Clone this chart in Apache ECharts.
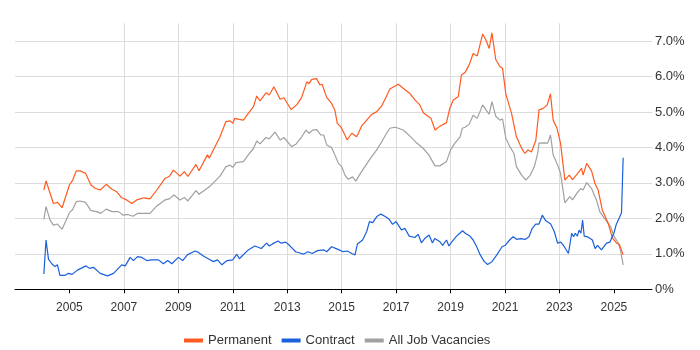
<!DOCTYPE html>
<html>
<head>
<meta charset="utf-8">
<script src="https://cdn.jsdelivr.net/npm/echarts@6/dist/echarts.min.js"></script>
<style>
  html, body { margin: 0; padding: 0; background: #fff; }
  #chart { width: 700px; height: 350px; }
</style>
</head>
<body>
<div id="chart"></div>
<script>
// [year, percent]
var permanent = [
  [2004.06, 2.80], [2004.14, 3.06], [2004.41, 2.42], [2004.56, 2.45], [2004.73, 2.30],
  [2005.00, 2.94], [2005.12, 3.08], [2005.25, 3.34], [2005.39, 3.34], [2005.59, 3.27],
  [2005.79, 2.94], [2005.94, 2.85], [2006.13, 2.80], [2006.35, 2.96], [2006.56, 2.82],
  [2006.74, 2.75], [2006.92, 2.58], [2007.10, 2.52], [2007.29, 2.42], [2007.47, 2.52],
  [2007.74, 2.58], [2007.96, 2.55], [2008.21, 2.80], [2008.51, 3.13], [2008.67, 3.18],
  [2008.82, 3.36], [2009.06, 3.19], [2009.22, 3.32], [2009.35, 3.18], [2009.65, 3.52],
  [2009.76, 3.34], [2010.07, 3.79], [2010.14, 3.70], [2010.53, 4.30], [2010.75, 4.73],
  [2010.90, 4.75], [2011.00, 4.68], [2011.08, 4.82], [2011.24, 4.79], [2011.39, 4.77],
  [2011.57, 4.96], [2011.76, 5.15], [2011.88, 5.45], [2012.00, 5.31], [2012.22, 5.54],
  [2012.34, 5.48], [2012.51, 5.71], [2012.74, 5.36], [2012.88, 5.40], [2013.14, 5.07],
  [2013.35, 5.20], [2013.53, 5.41], [2013.72, 5.85], [2013.80, 5.80], [2013.90, 5.92],
  [2014.08, 5.94], [2014.20, 5.76], [2014.28, 5.78], [2014.45, 5.41], [2014.63, 5.24],
  [2014.75, 5.05], [2014.84, 4.68], [2014.97, 4.58], [2015.12, 4.35], [2015.20, 4.21],
  [2015.37, 4.40], [2015.55, 4.30], [2015.73, 4.60], [2015.92, 4.77], [2016.10, 4.93],
  [2016.29, 5.01], [2016.47, 5.17], [2016.65, 5.45], [2016.77, 5.65], [2016.96, 5.73],
  [2017.08, 5.78], [2017.26, 5.67], [2017.51, 5.52], [2017.69, 5.34], [2017.87, 5.20],
  [2018.00, 4.98], [2018.18, 4.87], [2018.28, 4.82], [2018.43, 4.49], [2018.61, 4.60],
  [2018.85, 4.70], [2018.97, 5.10], [2019.10, 5.34], [2019.28, 5.43], [2019.40, 6.04],
  [2019.53, 6.11], [2019.68, 6.32], [2019.83, 6.65], [2019.98, 6.58], [2020.18, 7.20],
  [2020.30, 7.03], [2020.42, 6.79], [2020.52, 7.23], [2020.66, 6.48], [2020.81, 6.28],
  [2020.91, 6.23], [2021.03, 5.51], [2021.24, 4.96], [2021.42, 4.30], [2021.61, 3.98],
  [2021.73, 3.83], [2021.85, 3.93], [2021.97, 3.87], [2022.13, 4.19], [2022.25, 5.06],
  [2022.40, 5.10], [2022.55, 5.20], [2022.67, 5.51], [2022.77, 4.77], [2022.91, 4.54],
  [2023.04, 4.12], [2023.20, 3.08], [2023.27, 3.06], [2023.36, 3.22], [2023.48, 3.09],
  [2023.65, 3.25], [2023.81, 3.41], [2023.87, 3.22], [2024.00, 3.55], [2024.18, 3.34],
  [2024.30, 2.99], [2024.42, 2.80], [2024.58, 2.22], [2024.79, 1.86], [2024.95, 1.44],
  [2025.10, 1.30], [2025.20, 1.27], [2025.34, 0.97]
];

var contract = [
  [2004.06, 0.43], [2004.14, 1.39], [2004.23, 0.85], [2004.35, 0.72], [2004.47, 0.64],
  [2004.56, 0.69], [2004.65, 0.39], [2004.83, 0.39], [2004.96, 0.45], [2005.10, 0.42],
  [2005.29, 0.54], [2005.61, 0.66], [2005.74, 0.59], [2005.88, 0.62], [2006.13, 0.45],
  [2006.40, 0.38], [2006.62, 0.45], [2006.92, 0.69], [2007.05, 0.66], [2007.23, 0.90],
  [2007.35, 0.81], [2007.50, 0.92], [2007.66, 0.90], [2007.84, 0.81], [2008.02, 0.83],
  [2008.27, 0.83], [2008.45, 0.72], [2008.61, 0.81], [2008.76, 0.72], [2009.00, 0.90],
  [2009.16, 0.81], [2009.33, 0.97], [2009.61, 1.08], [2009.74, 1.04], [2009.92, 0.94],
  [2010.10, 0.86], [2010.29, 0.78], [2010.44, 0.83], [2010.60, 0.69], [2010.79, 0.81],
  [2011.00, 0.83], [2011.15, 0.99], [2011.24, 0.86], [2011.57, 1.11], [2011.81, 1.22],
  [2012.05, 1.15], [2012.24, 1.30], [2012.34, 1.22], [2012.46, 1.28], [2012.66, 1.36],
  [2012.78, 1.30], [2012.94, 1.33], [2013.08, 1.24], [2013.31, 1.06], [2013.43, 1.03],
  [2013.59, 0.99], [2013.76, 1.06], [2013.92, 1.01], [2014.11, 1.09], [2014.35, 1.11],
  [2014.45, 1.06], [2014.63, 1.20], [2014.82, 1.14], [2015.06, 1.06], [2015.21, 1.08],
  [2015.37, 1.01], [2015.49, 0.97], [2015.58, 1.28], [2015.77, 1.39], [2015.92, 1.63],
  [2016.02, 1.91], [2016.14, 1.88], [2016.29, 2.05], [2016.44, 2.12], [2016.60, 2.05],
  [2016.74, 1.98], [2016.87, 1.83], [2017.00, 1.91], [2017.20, 1.67], [2017.32, 1.72],
  [2017.48, 1.50], [2017.69, 1.46], [2017.81, 1.55], [2017.93, 1.31], [2018.05, 1.43],
  [2018.21, 1.53], [2018.33, 1.31], [2018.42, 1.43], [2018.61, 1.34], [2018.71, 1.24],
  [2018.85, 1.39], [2018.94, 1.22], [2019.04, 1.33], [2019.22, 1.50], [2019.34, 1.58],
  [2019.44, 1.65], [2019.54, 1.58], [2019.71, 1.50], [2019.83, 1.39], [2019.96, 1.20],
  [2020.09, 0.97], [2020.24, 0.78], [2020.36, 0.70], [2020.52, 0.78], [2020.70, 0.97],
  [2020.89, 1.20], [2021.01, 1.24], [2021.17, 1.39], [2021.30, 1.48], [2021.42, 1.41],
  [2021.57, 1.43], [2021.75, 1.41], [2021.88, 1.48], [2022.00, 1.72], [2022.13, 1.84],
  [2022.25, 1.84], [2022.37, 2.09], [2022.50, 1.93], [2022.68, 1.84], [2022.81, 1.63],
  [2022.93, 1.30], [2023.05, 1.33], [2023.18, 1.20], [2023.33, 1.01], [2023.45, 1.58],
  [2023.52, 1.48], [2023.58, 1.58], [2023.66, 1.50], [2023.72, 1.67], [2023.79, 1.58],
  [2023.85, 1.95], [2023.91, 1.50], [2024.03, 1.48], [2024.21, 1.39], [2024.31, 1.15],
  [2024.40, 1.24], [2024.54, 1.11], [2024.73, 1.30], [2024.85, 1.33], [2024.92, 1.35],
  [2025.00, 1.58], [2025.08, 1.81], [2025.14, 1.77], [2025.22, 2.05], [2025.28, 2.16],
  [2025.34, 3.71]
];

var allJobs = [
  [2004.06, 1.97], [2004.14, 2.33], [2004.29, 1.95], [2004.41, 1.81], [2004.56, 1.84],
  [2004.73, 1.69], [2005.00, 2.16], [2005.12, 2.25], [2005.25, 2.47], [2005.39, 2.49],
  [2005.59, 2.45], [2005.79, 2.22], [2006.00, 2.19], [2006.15, 2.14], [2006.35, 2.26],
  [2006.56, 2.19], [2006.80, 2.19], [2006.98, 2.09], [2007.15, 2.11], [2007.33, 2.06],
  [2007.50, 2.14], [2007.96, 2.14], [2008.21, 2.35], [2008.51, 2.52], [2008.67, 2.55],
  [2008.84, 2.66], [2009.06, 2.52], [2009.22, 2.59], [2009.35, 2.49], [2009.65, 2.78],
  [2009.76, 2.68], [2010.14, 2.89], [2010.53, 3.19], [2010.75, 3.46], [2010.90, 3.50],
  [2011.00, 3.44], [2011.12, 3.57], [2011.39, 3.60], [2011.57, 3.79], [2011.76, 3.97],
  [2011.88, 4.18], [2012.00, 4.10], [2012.22, 4.28], [2012.34, 4.24], [2012.55, 4.43],
  [2012.74, 4.21], [2012.88, 4.28], [2013.16, 4.02], [2013.33, 4.10], [2013.53, 4.30],
  [2013.69, 4.49], [2013.81, 4.40], [2013.93, 4.49], [2014.08, 4.50], [2014.24, 4.35],
  [2014.34, 4.35], [2014.45, 4.07], [2014.63, 4.00], [2014.75, 3.79], [2014.88, 3.55],
  [2015.00, 3.46], [2015.12, 3.22], [2015.24, 3.10], [2015.40, 3.17], [2015.52, 3.05],
  [2015.69, 3.27], [2015.89, 3.50], [2016.10, 3.74], [2016.29, 3.93], [2016.47, 4.16],
  [2016.65, 4.40], [2016.77, 4.54], [2016.96, 4.57], [2017.08, 4.54], [2017.26, 4.49],
  [2017.51, 4.32], [2017.75, 4.13], [2018.00, 3.97], [2018.20, 3.79], [2018.43, 3.48],
  [2018.61, 3.48], [2018.85, 3.60], [2019.00, 3.93], [2019.16, 4.12], [2019.35, 4.30],
  [2019.43, 4.54], [2019.53, 4.57], [2019.68, 4.65], [2019.83, 4.91], [2019.98, 4.82],
  [2020.18, 5.20], [2020.30, 5.06], [2020.42, 4.94], [2020.52, 5.29], [2020.66, 4.88],
  [2020.81, 4.77], [2020.91, 4.80], [2021.03, 4.26], [2021.18, 4.02], [2021.33, 3.83],
  [2021.42, 3.46], [2021.61, 3.22], [2021.77, 3.08], [2021.93, 3.22], [2022.08, 3.46],
  [2022.20, 3.83], [2022.25, 4.12], [2022.45, 4.13], [2022.57, 4.12], [2022.67, 4.35],
  [2022.77, 3.79], [2022.91, 3.55], [2023.04, 3.27], [2023.20, 2.44], [2023.38, 2.61],
  [2023.48, 2.52], [2023.65, 2.72], [2023.78, 2.84], [2023.87, 2.80], [2024.00, 3.01],
  [2024.18, 2.84], [2024.36, 2.52], [2024.48, 2.19], [2024.70, 1.95], [2024.88, 1.77],
  [2025.00, 1.50], [2025.15, 1.32], [2025.24, 1.11], [2025.34, 0.69]
];

var seriesNames = ['Permanent', 'Contract', 'All Job Vacancies'];
var seriesColors = ['#ff5a1f', '#1a5fdc', '#a0a0a0'];
var yearTicks = [2005, 2007, 2009, 2011, 2013, 2015, 2017, 2019, 2021, 2023, 2025];

// x axis counts years from 2003 so the 2-year ticks land on odd years
var base = 2003;
function shift(list) {
  return list.map(function (p) { return [p[0] - base, p[1]]; });
}
var tickPos = yearTicks.map(function (y) { return y - base; });

var myChart = echarts.init(document.getElementById('chart'));

var option = {
  animation: false,
  grid: { left: 15, right: 48, top: 23.3, bottom: 60.7, containLabel: false, outerBoundsMode: 'none' },
  legend: {
    data: seriesNames,
    left: 179,
    top: 329,
    icon: 'rect',
    itemWidth: 19,
    itemHeight: 4,
    itemGap: 10,
    textStyle: { fontSize: 13, color: '#333', fontFamily: 'Liberation Sans, Arial, sans-serif' }
  },
  xAxis: {
    type: 'value',
    min: 0,
    max: 23.4,
    interval: 2,
    offset: 6,
    axisLine: { lineStyle: { color: '#000', width: 1 } },
    axisTick: { show: true, length: 4, customValues: tickPos, lineStyle: { color: '#000' } },
    axisLabel: {
      customValues: tickPos,
      fontSize: 12,
      color: '#333',
      margin: 6,
      fontFamily: 'Liberation Sans, Arial, sans-serif',
      formatter: function (v) { return '' + Math.round(v + base); }
    },
    splitLine: { show: true, showMinLine: false, showMaxLine: false, lineStyle: { color: '#dcdcdc' } }
  },
  yAxis: {
    type: 'value',
    position: 'right',
    min: 0,
    max: 7.5,
    interval: 1,
    axisLine: { show: false },
    axisTick: { show: false },
    axisLabel: {
      showMaxLabel: false,
      fontSize: 13,
      color: '#333',
      margin: 3,
      fontFamily: 'Liberation Sans, Arial, sans-serif',
      formatter: function (v) {
        if (v > 7.2) return '';
        return v === 0 ? '0%' : v.toFixed(1) + '%';
      }
    },
    splitLine: { show: true, showMaxLine: false, lineStyle: { color: '#dcdcdc' } }
  },
  series: [
    { name: seriesNames[0], type: 'line', data: shift(permanent), showSymbol: false, symbol: 'none',
      lineStyle: { width: 1.2, color: seriesColors[0] }, itemStyle: { color: seriesColors[0] }, z: 3 },
    { name: seriesNames[1], type: 'line', data: shift(contract), showSymbol: false, symbol: 'none',
      lineStyle: { width: 1.2, color: seriesColors[1] }, itemStyle: { color: seriesColors[1] }, z: 4 },
    { name: seriesNames[2], type: 'line', data: shift(allJobs), showSymbol: false, symbol: 'none',
      lineStyle: { width: 1.2, color: seriesColors[2] }, itemStyle: { color: seriesColors[2] }, z: 2 }
  ]
};

myChart.setOption(option);
</script>
</body>
</html>
